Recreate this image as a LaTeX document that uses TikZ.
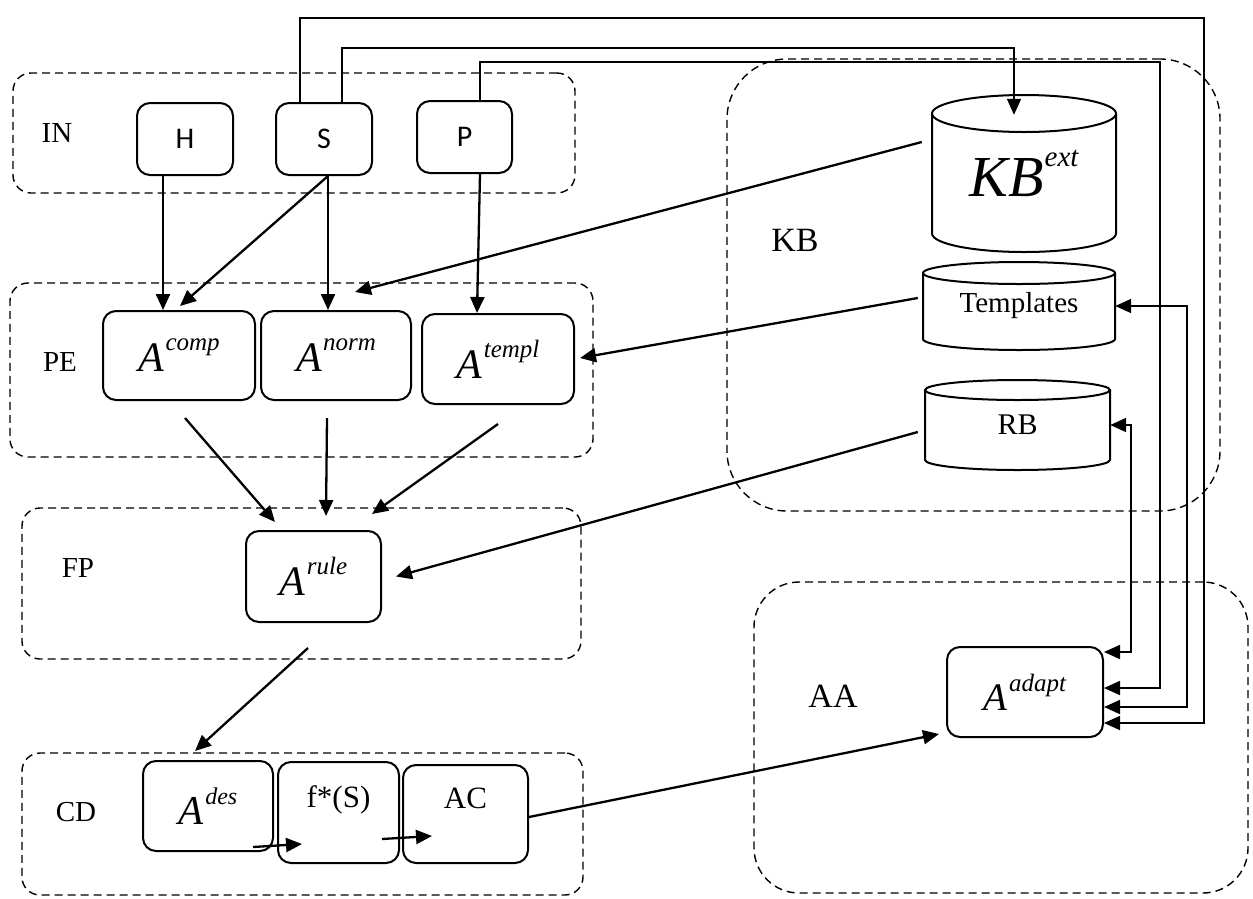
\documentclass[tikz,border=0pt]{standalone}
\usepackage{fontspec}
\setmainfont{Liberation Serif}
\newfontfamily\carlitofont{Carlito}
\usetikzlibrary{arrows.meta,calc}

\newcommand{\Asup}[4]{{\fontsize{#1}{#1}\selectfont\itshape A\hspace{1.5pt}\raisebox{#3pt}{\fontsize{#2}{#2}\selectfont #4}}}

\tikzset{
  grp/.style={draw, dash pattern=on 8pt off 5pt, line width=1.4pt, rounded corners=18pt, inner sep=0pt},
  box/.style={draw, line width=2pt, rounded corners=13pt, inner sep=0pt},
  lbl/.style={font=\fontsize{29}{29}\selectfont, inner sep=0pt},
  big/.style={font=\fontsize{34}{34}\selectfont, inner sep=0pt},
  sansbox/.style={box, font=\carlitofont\fontsize{30}{30}\selectfont},
  cylline/.style={line width=2pt},
  arr/.style={line width=2.3pt, -{Triangle[length=16pt,width=14pt]}},
  wirearr/.style={line width=1.7pt, -{Triangle[length=16pt,width=14pt]}},
  wirearr2/.style={line width=1.7pt, {Triangle[length=16pt,width=14pt]}-{Triangle[length=16pt,width=14pt]}},
  cyl/.style={draw=none, inner sep=0pt},
}

\begin{document}
\begin{tikzpicture}[x=1pt,y=-1pt]
\fill[white] (0,0) rectangle (1253,898);
\useasboundingbox (0,0) rectangle (1253,898);

% groups
\node[grp, minimum width=562pt, minimum height=120pt] (gIN) at (294,133) {};
\node[grp, minimum width=583pt, minimum height=174pt] (gPE) at (301.5,370) {};
\node[grp, minimum width=559pt, minimum height=151pt] (gFP) at (301.5,583.5) {};
\node[grp, minimum width=561pt, minimum height=142pt] (gCD) at (302.5,824) {};
\node[grp, rounded corners=60pt, minimum width=493pt, minimum height=452pt] (gKB) at (973.5,285) {};
\node[grp, rounded corners=45pt, minimum width=494pt, minimum height=311pt] (gAA) at (1001,737.5) {};

% group labels
\node[lbl] (lIN) at (57,133) {IN};
\node[lbl] (lPE) at (60,362) {PE};
\node[lbl] (lFP) at (78,568) {FP};
\node[lbl] (lCD) at (76,812) {CD};
\node[big] (lKB) at (795,240) {KB};
\node[big] (lAA) at (833,696) {AA};

% IN nodes
\node[sansbox, minimum width=96pt, minimum height=72pt] (H) at (185,139) {H};
\node[sansbox, minimum width=96pt, minimum height=72pt] (S) at (324,139) {S};
\node[sansbox, minimum width=95pt, minimum height=72pt] (P) at (464.5,137) {P};

% PE nodes
\node[box, minimum width=152pt, minimum height=89pt] (Acomp) at (179,355.5) {\Asup{42}{25}{21}{comp}};
\node[box, minimum width=150pt, minimum height=89pt] (Anorm) at (336,355.5) {\Asup{42}{25}{21}{norm}};
\node[box, minimum width=152pt, minimum height=90pt] (Atempl) at (498,359) {\Asup{42}{25}{21}{templ}};

% FP
\node[box, minimum width=135pt, minimum height=91pt] (Arule) at (313.5,576.5) {\Asup{42}{25}{21}{rule}};

% CD
\node[box, minimum width=130pt, minimum height=90pt] (Ades) at (208,806) {\Asup{41}{24}{20}{des}};
\node[box, minimum width=121pt, minimum height=101pt, font=\fontsize{31}{31}\selectfont] (fS) at (338.5,812.5) {\raisebox{31pt}{f*(S)}};
\node[box, minimum width=125pt, minimum height=98pt, font=\fontsize{31}{31}\selectfont] (AC) at (465.5,814) {\raisebox{32pt}{AC}};

% KB cylinders
\draw[cylline] (1024,113.5) ellipse [x radius=92pt, y radius=18.5pt];
\draw[cylline] (932,113.5) -- (932,233.5) arc[start angle=180, end angle=360, x radius=92pt, y radius=18.5pt] -- (1116,113.5);
\node[cyl, minimum width=184pt, minimum height=157pt] (kbext) at (1024,173.5)
  {{\fontsize{58}{58}\selectfont\itshape KB\hspace{1pt}\raisebox{30pt}{\fontsize{29}{29}\selectfont ext}}};

\draw[cylline] (1019,273) ellipse [x radius=96pt, y radius=11pt];
\draw[cylline] (923,273) -- (923,339) arc[start angle=180, end angle=360, x radius=96pt, y radius=11pt] -- (1115,273);
\node[cyl, minimum width=192pt, minimum height=88pt, font=\fontsize{29}{29}\selectfont] (templ) at (1019,306) {Templates};

\draw[cylline] (1017.5,390) ellipse [x radius=92.5pt, y radius=10pt];
\draw[cylline] (925,390) -- (925,460) arc[start angle=180, end angle=360, x radius=92.5pt, y radius=10pt] -- (1110,390);
\node[cyl, minimum width=185pt, minimum height=90pt, font=\fontsize{30}{30}\selectfont] (rb) at (1017.5,425) {RB};

% AA
\node[box, minimum width=156pt, minimum height=90pt] (Aadapt) at (1025,692) {\Asup{39}{25}{19}{adapt}};

% connectors
\draw[arr] ([xshift=-22pt]H.south) -- ([xshift=-16pt]Acomp.north);
\draw[arr] ([xshift=4pt]S.south) -- ([xshift=1pt,yshift=4pt]Acomp.north);
\draw[arr] ([xshift=4pt]S.south) -- ([xshift=-8pt]Anorm.north);
\draw[arr] ([xshift=15.5pt]P.south) -- ([xshift=-21pt]Atempl.north);
\draw[arr] ([xshift=-10pt,yshift=31.5pt]kbext.west) -- ([xshift=19pt,yshift=18pt]Anorm.north);
\draw[arr] ([xshift=-5pt,yshift=8pt]templ.west) -- ([xshift=5pt,yshift=1pt]Atempl.east);
\draw[arr] ([xshift=6pt,yshift=-17pt]Acomp.south) -- ([xshift=-38.5pt,yshift=8pt]Arule.north);
\draw[arr] ([xshift=-9pt,yshift=-17pt]Anorm.south) -- ([xshift=12.5pt,yshift=14pt]Arule.north);
\draw[arr] ([yshift=-19pt]Atempl.south) -- ([xshift=58.5pt,yshift=16pt]Arule.north);
\draw[arr] ([xshift=-7pt,yshift=-7pt]rb.west) -- ([xshift=14pt]Arule.east);
\draw[arr] ([xshift=-5.5pt,yshift=-25pt]Arule.south) -- ([xshift=-13pt,yshift=9pt]Ades.north);
\draw[arr] ([xshift=-21pt,yshift=5pt]Ades.south east) -- ([xshift=25pt,yshift=20pt]fS.south west);
\draw[arr] ([xshift=-18pt,yshift=25pt]fS.south east) -- ([xshift=30pt,yshift=28pt]AC.south west);
\draw[arr] ([yshift=-3pt]AC.east) -- ([xshift=-7pt,yshift=4pt]Aadapt.south west);

% feedback wires
\draw[wirearr] ([xshift=-24pt]S.north) |- (1204,18) |- ([yshift=-31pt]Aadapt.east);
\draw[wirearr] ([xshift=18pt]S.north) |- (1014,48) -- ([xshift=-10pt,yshift=-20pt]kbext.north);
\draw[wirearr] ([xshift=15.5pt]P.north) |- (1160,62) |- ([yshift=4pt]Aadapt.east);
\draw[wirearr2] (templ.east) -| (1187,707) -- ([yshift=-15pt]Aadapt.east);
\draw[wirearr2] (rb.east) -| (1131,652) -- ([yshift=40pt]Aadapt.east);
\end{tikzpicture}
\end{document}
